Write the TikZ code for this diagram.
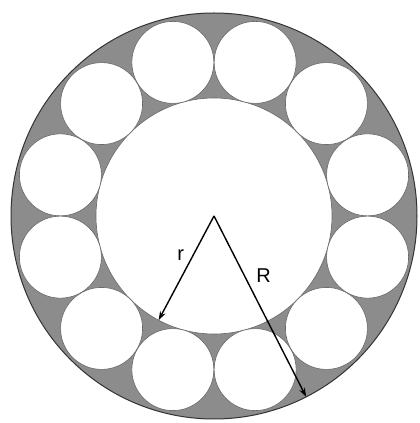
\documentclass[tikz,border=0pt]{standalone}
\usepackage{fontspec}
\setmainfont{Liberation Sans}
\usetikzlibrary{arrows.meta, calc}

\begin{document}
\begin{tikzpicture}[
  x=1pt, y=1pt, >=Stealth,
  font=\fontsize{20}{24}\selectfont,
  disc/.style={circle, draw=black!80, line width=1pt, inner sep=0pt, outer sep=0pt},
  ring/.style={disc, fill=black!45, minimum size=406pt},
  hub/.style={disc, fill=white, draw=black!60, line width=0.6pt, minimum size=236pt},
  ball/.style={disc, fill=white, draw=black!60, line width=0.6pt, minimum size=82pt},
  rad/.style={-{Stealth[length=9pt, width=6pt]}, line width=1.4pt, black},
]
\useasboundingbox (0,0) rectangle (420,423);

% ---- outer disc and central circle ----
\coordinate (O) at (214,207);
\node[ring] (outer) at (O) {};
\node[hub]  (inner) at (O) {};

% ---- twelve balls round the hub ----
\foreach \a [count=\i] in {15,45,...,345}
  \node[ball] (b\i) at ($(O)+(\a:159)$) {};

% ---- radii ----
\draw[rad] (O) -- (inner.242) node[pos=0.38, left=5pt] {r};
\draw[rad] (O) -- (outer.-63) node[pos=0.33, right=8pt] {R};

\end{tikzpicture}
\end{document}
